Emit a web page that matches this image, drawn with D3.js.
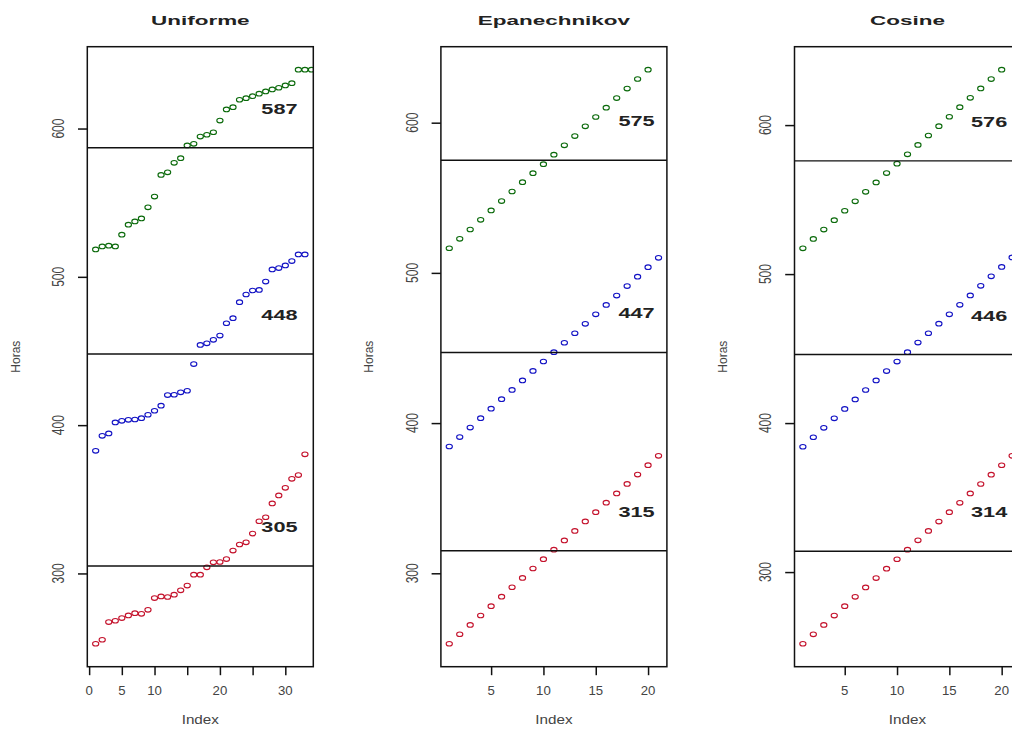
<!DOCTYPE html>
<html>
<head>
<meta charset="utf-8">
<script src="https://cdn.jsdelivr.net/npm/d3@7"></script>
<style>
  body { margin: 0; background: #fff; overflow: hidden; }
  svg { display: block; font-family: "Liberation Sans", Arial, sans-serif; }
</style>
</head>
<body>
<svg id="chart" width="1012" height="733"></svg>
<script>
// panel titles and the rounded group means written on each panel
let titles = ["Uniforme", "Epanechnikov", "Cosine"];
let meanValues = [[587, 448, 305], [575, 447, 315], [576, 446, 314]];
let meanLabelX = [29.1, 18.9, 18.8];
let indexLength = [33, 21, 21];

// x axis ticks (R drops labels that would overlap)
let uniformeTicks = [0, 5, 10, 15, 20, 25, 30];
let uniformeTickLabels = ["0", "5", "10", "", "20", "", "30"];
let kernelTicks = [5, 10, 15, 20];
let kernelTickLabels = ["5", "10", "15", "20"];
let yTicks = [300, 400, 500, 600];

// Uniforme
let uniformeGreen = [518.5, 520.5, 521.0, 520.5, 528.4, 535.2, 537.4, 539.4, 546.9, 554.1,
  568.7, 570.5, 576.9, 580.0, 588.6, 589.7, 594.6, 595.8, 597.5, 605.4,
  612.9, 614.4, 619.4, 620.5, 621.8, 623.5, 625.0, 626.4, 627.5, 629.1,
  630.6, 639.7, 639.7, 639.7];
let uniformeBlue = [382.7, 392.8, 394.4, 401.8, 402.9, 403.6, 403.8, 404.7, 407.0, 409.7,
  413.1, 420.3, 420.5, 422.1, 423.2, 441.2, 454.1, 455.2, 457.5, 460.4,
  468.7, 472.1, 482.9, 488.1, 490.8, 491.2, 496.8, 505.0, 505.9, 507.7,
  510.6, 515.1, 515.1];
let uniformeRed = [252.6, 255.3, 267.2, 268.1, 269.9, 271.7, 273.2, 272.8, 275.5, 283.4,
  284.5, 284.1, 285.7, 288.6, 291.8, 299.2, 299.2, 304.1, 307.5, 307.7,
  309.7, 315.4, 319.5, 321.0, 326.9, 335.2, 337.9, 347.2, 352.6, 357.7,
  363.8, 366.3, 380.3];

// Epanechnikov
let epanGreen = [516.4, 522.7, 528.9, 535.3, 541.6, 547.8, 554.2, 560.4, 566.4, 572.4,
  578.7, 584.9, 591.1, 597.6, 603.8, 610.0, 616.4, 622.7, 629.1, 635.3];
let epanBlue = [384.4, 390.7, 397.0, 403.3, 409.6, 415.9, 422.1, 428.4, 434.7, 441.0,
  447.2, 453.5, 459.8, 466.1, 472.4, 478.7, 484.9, 491.2, 497.5, 503.8, 510.0];
let epanRed = [253.1, 259.4, 265.6, 271.9, 278.1, 284.4, 290.7, 296.9, 303.2, 309.4,
  315.7, 321.9, 328.2, 334.5, 340.7, 347.0, 353.2, 359.5, 365.7, 372.0, 378.2];

// Cosine
let cosGreen = [517.3, 523.6, 529.9, 536.2, 542.5, 548.8, 555.2, 561.5, 567.8, 574.1,
  580.4, 586.7, 593.0, 599.3, 605.6, 612.0, 618.3, 624.6, 630.9, 637.2];
let cosBlue = [384.1, 390.5, 396.8, 403.2, 409.5, 415.9, 422.2, 428.6, 434.9, 441.3,
  447.6, 454.0, 460.3, 466.7, 473.0, 479.4, 485.7, 492.1, 498.5, 504.8, 511.2];
let cosRed = [251.9, 258.2, 264.5, 270.8, 277.1, 283.4, 289.7, 296.0, 302.3, 308.6,
  315.0, 321.3, 327.6, 333.9, 340.2, 346.5, 352.8, 359.1, 365.4, 371.7, 378.0];

let seriesColors = ["#0b6a0b", "#1212c4", "#c4122c"];

let panels = [
  {series: [uniformeGreen, uniformeBlue, uniformeRed], ticks: uniformeTicks, tickLabels: uniformeTickLabels},
  {series: [epanGreen, epanBlue, epanRed], ticks: kernelTicks, tickLabels: kernelTickLabels},
  {series: [cosGreen, cosBlue, cosRed], ticks: kernelTicks, tickLabels: kernelTickLabels}
];

let svg = d3.select('#chart');
let frameTop = 46.7, frameBottom = 666.7, frameW = 226;

// R style 4% range extension
let extend = function (lo, hi) {
  let d = (hi - lo) * 0.04;
  return [lo - d, hi + d];
};

panels.forEach(function (p, i) {
  let left = 87.3 + i * 353.6;
  let g = svg.append('g');

  let x = d3.scaleLinear()
    .domain(extend(1, indexLength[i]))
    .range([left, left + frameW]);
  let all = d3.merge(p.series);
  let y = d3.scaleLinear()
    .domain(extend(d3.min(all), d3.max(all)))
    .range([frameBottom, frameTop]);

  g.append('clipPath').attr('id', 'clip' + i)
    .append('rect')
    .attr('x', left).attr('y', frameTop)
    .attr('width', frameW).attr('height', frameBottom - frameTop);

  // points
  let pts = g.append('g').attr('clip-path', 'url(#clip' + i + ')');
  p.series.forEach(function (vals, s) {
    pts.selectAll(null)
      .data(vals)
      .enter().append('ellipse')
      .attr('cx', (d, k) => x(k + 1))
      .attr('cy', d => y(d))
      .attr('rx', 3.1).attr('ry', 2.3)
      .attr('fill', 'none')
      .attr('stroke', seriesColors[s])
      .attr('stroke-width', 1.1);
  });

  // mean lines
  g.selectAll(null)
    .data(meanValues[i])
    .enter().append('line')
    .attr('x1', left).attr('x2', left + frameW)
    .attr('y1', d => y(d)).attr('y2', d => y(d))
    .attr('stroke', '#111').attr('stroke-width', 1.4);

  // mean labels
  g.selectAll(null)
    .data(meanValues[i])
    .enter().append('text')
    .attr('transform', d => 'translate(' + x(meanLabelX[i]) + ',' + y(d + 26) + ') scale(1.55,1)')
    .attr('text-anchor', 'middle')
    .attr('dominant-baseline', 'central')
    .attr('font-weight', 'bold')
    .attr('font-size', 14)
    .attr('fill', '#222')
    .text(d => d);

  // frame
  g.append('rect')
    .attr('x', left).attr('y', frameTop)
    .attr('width', frameW).attr('height', frameBottom - frameTop)
    .attr('fill', 'none').attr('stroke', '#111').attr('stroke-width', 1.5);

  // y axis
  let yAxis = d3.axisLeft(y).tickValues(yTicks).tickSize(9.3).tickFormat('');
  let ya = g.append('g').attr('transform', 'translate(' + left + ',0)').call(yAxis);
  ya.select('.domain').remove();
  ya.selectAll('line').attr('stroke', '#111').attr('stroke-width', 1.5);
  g.selectAll(null)
    .data(yTicks)
    .enter().append('text')
    .attr('transform', d => 'translate(' + (left - 29) + ',' + y(d) + ') scale(1.35,1) rotate(-90)')
    .attr('text-anchor', 'middle')
    .attr('dominant-baseline', 'central')
    .attr('font-size', 12)
    .attr('fill', '#444')
    .text(d => d);

  // x axis
  let xAxis = d3.axisBottom(x).tickValues(p.ticks).tickSize(8.5).tickFormat('');
  let xa = g.append('g').attr('transform', 'translate(0,' + frameBottom + ')').call(xAxis);
  xa.select('.domain').remove();
  xa.selectAll('line').attr('stroke', '#111').attr('stroke-width', 1.5);
  g.selectAll(null)
    .data(p.ticks)
    .enter().append('text')
    .attr('transform', (d, k) => 'translate(' + x(d) + ',691) scale(1.1,1)')
    .attr('text-anchor', 'middle')
    .attr('dominant-baseline', 'central')
    .attr('font-size', 12)
    .attr('fill', '#444')
    .text((d, k) => p.tickLabels[k]);

  // axis titles
  g.append('text')
    .attr('transform', 'translate(' + (left + frameW / 2) + ',720.5) scale(1.27,1)')
    .attr('text-anchor', 'middle')
    .attr('dominant-baseline', 'central')
    .attr('font-size', 12)
    .attr('fill', '#444')
    .text('Index');
  g.append('text')
    .attr('transform', 'translate(' + (left - 71.5) + ',' + ((frameTop + frameBottom) / 2) + ') rotate(-90)')
    .attr('text-anchor', 'middle')
    .attr('dominant-baseline', 'central')
    .attr('font-size', 12)
    .attr('fill', '#444')
    .text('Horas');

  // panel title
  g.append('text')
    .attr('transform', 'translate(' + (left + frameW / 2) + ',20) scale(1.73,1)')
    .attr('text-anchor', 'middle')
    .attr('dominant-baseline', 'central')
    .attr('font-weight', 'bold')
    .attr('font-size', 13)
    .attr('fill', '#222')
    .text(titles[i]);
});
</script>
</body>
</html>
